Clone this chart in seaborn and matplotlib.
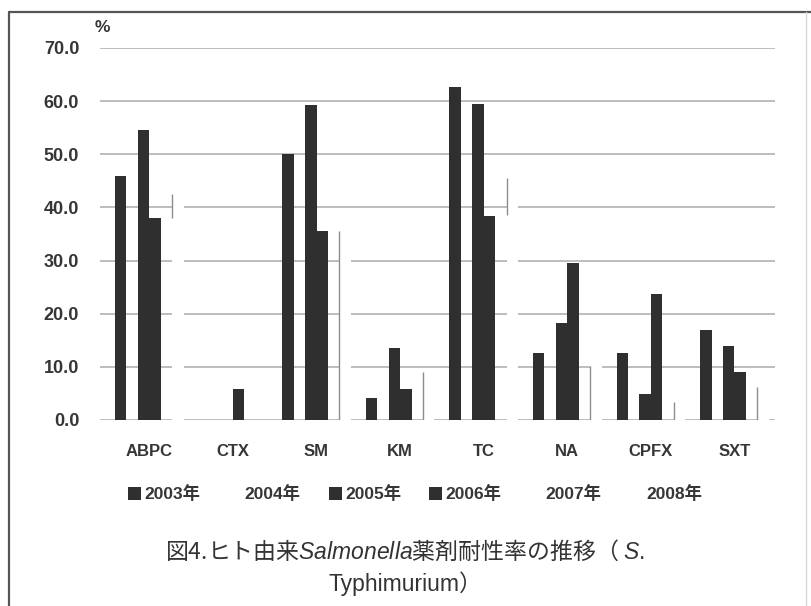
import matplotlib
matplotlib.use("Agg")
import pandas as pd
import seaborn as sns
import matplotlib.pyplot as plt
from matplotlib.lines import Line2D
from matplotlib.patches import Patch

# --- data (resistance rate, %) ---
drugs = ["ABPC", "CTX", "SM", "KM", "TC", "NA", "CPFX", "SXT"]
years = ["2003年", "2004年", "2005年", "2006年", "2007年", "2008年"]

rate_2003 = [45.9, 0.0, 50.1, 4.2, 62.7, 12.7, 12.7, 16.9]
rate_2004 = [0.0, 0.0, 0.0, 0.0, 0.0, 0.0, 0.0, 0.0]      # light bars lost in the scan
rate_2005 = [54.6, 0.0, 59.3, 13.6, 59.4, 18.3, 4.9, 13.9]
rate_2006 = [38.1, 5.8, 35.6, 5.9, 38.4, 29.6, 23.8, 9.1]
rate_2007 = [0.0, 0.0, 0.0, 0.0, 0.0, 0.0, 0.0, 0.0]      # light bars lost in the scan
rate_2008 = [42.5, 0.0, 35.6, 9.1, 45.5, 10.2, 3.4, 6.3]  # only the bar edge survives
edge_2008_from = [38.1, 0.0, 0.0, 0.0, 38.6, 0.0, 0.0, 0.0]

year_colors = ["#2f2f2f", "#ffffff", "#2f2f2f", "#2f2f2f", "#ffffff", "#ffffff"]

series = [rate_2003, rate_2004, rate_2005, rate_2006, rate_2007, rate_2008]
df = pd.DataFrame(
    [(d, y, v) for y, vals in zip(years, series) for d, v in zip(drugs, vals)],
    columns=["drug", "year", "rate"],
)

sns.set_theme(style="white")
plt.rcParams["font.family"] = ["Liberation Sans", "Noto Sans CJK JP", "DejaVu Sans"]
plt.rcParams["mathtext.fontset"] = "custom"
plt.rcParams["mathtext.it"] = "Liberation Sans:italic"
plt.rcParams["mathtext.rm"] = "Liberation Sans"

text_col = "#363636"

fig = plt.figure(figsize=(8.11, 6.06), dpi=100)
ax = fig.add_axes([100 / 811, 186 / 606, 675 / 811, 372 / 606])

sns.barplot(data=df, x="drug", y="rate", hue="year", hue_order=years,
            palette=year_colors, width=0.82, saturation=1, linewidth=0,
            legend=False, ax=ax)

# 2008 bars: only the thin left edge is visible in the scan
for bar, y0 in zip(ax.containers[5], edge_2008_from):
    h = bar.get_height()
    if h > 0:
        ax.vlines(bar.get_x(), y0, h, color="#8c8c8c", lw=1.0, zorder=3)

ax.set_ylim(0, 70)
ax.set_xlim(-0.59, 7.485)
ax.set_yticks(range(0, 71, 10))
ax.set_yticklabels([f"{v:.1f}" for v in range(0, 71, 10)])
ax.yaxis.grid(True, color="#bdbdbd", lw=1.4)
ax.set_axisbelow(True)
for s in ax.spines.values():
    s.set_visible(False)
ax.set_xlabel("")
ax.set_ylabel("")
ax.tick_params(axis="y", length=0, pad=15, labelsize=13, labelcolor=text_col)
ax.tick_params(axis="x", length=0, pad=17, labelsize=12, labelcolor=text_col)
for lab in ax.get_xticklabels() + ax.get_yticklabels():
    lab.set_fontweight("bold")

fig.text(102 / 811, 1 - 28 / 606, "%", ha="center", va="center",
         fontsize=12.5, fontweight="bold", color=text_col)

# legend row
handles = [Patch(facecolor=c, edgecolor="none") for c in year_colors]
leg = fig.legend(handles, years, loc="center", bbox_to_anchor=(415 / 811, 1 - 494 / 606),
                 ncol=6, frameon=False, handlelength=0.75, handleheight=0.75,
                 handletextpad=0.2, columnspacing=1.6,
                 prop={"family": ["Liberation Sans", "Noto Sans CJK JP"],
                       "weight": "bold", "size": 12.5})
for t in leg.get_texts():
    t.set_color(text_col)

# caption
fig.text(405 / 811, 1 - 551 / 606,
         "図4.ヒト由来$\\mathit{Salmonella}$薬剤耐性率の推移（ $\\mathit{S.}$",
         ha="center", va="center", fontsize=16.5, color="#333333",
         family="Noto Sans CJK JP")
fig.text(405 / 811, 1 - 584 / 606, "Typhimurium）", ha="center", va="center",
         fontsize=16.5, color="#333333", family=["Liberation Sans", "Noto Sans CJK JP"])

# outer frame of the scanned figure
fig.add_artist(Line2D([9 / 811, 9 / 811], [0, 1 - 12 / 606], transform=fig.transFigure,
                      color="#555555", lw=1.6))
fig.add_artist(Line2D([9 / 811, 1], [1 - 12 / 606, 1 - 12 / 606], transform=fig.transFigure,
                      color="#555555", lw=1.6))
fig.add_artist(Line2D([806 / 811, 806 / 811], [0, 1 - 12 / 606], transform=fig.transFigure,
                      color="#d8d8d8", lw=1.0))

fig.savefig("out.png", dpi=100)
